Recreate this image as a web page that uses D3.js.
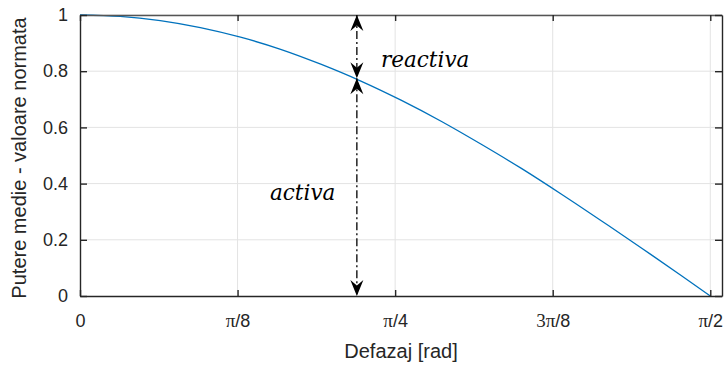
<!DOCTYPE html>
<html>
<head>
<meta charset="utf-8">
<script src="https://cdn.jsdelivr.net/npm/d3@7"></script>
<style>
  body { margin: 0; background: #fff; }
  svg { display: block; }
</style>
</head>
<body>
<div id="viz"></div>
<script>

// values
var angle = [0, 0.1, 0.2, 0.3, 0.4, 0.5, 0.6, 0.7, 0.8, 0.9, 1.0, 1.1, 1.2, 1.3, 1.4, 1.5, 1.5708];
var power = [1, 0.995, 0.980, 0.955, 0.921, 0.878, 0.825, 0.765, 0.697, 0.622, 0.540, 0.454, 0.362, 0.267, 0.170, 0.071, 0];

var xTicks = [0, Math.PI / 8, Math.PI / 4, 3 * Math.PI / 8, Math.PI / 2];
var xTickLabels = [["", "0"], ["\u03c0", "/8"], ["\u03c0", "/4"], ["3\u03c0", "/8"], ["\u03c0", "/2"]];
var yTicks = [0, 0.2, 0.4, 0.6, 0.8, 1];
var yTickLabels = ["0", "0.2", "0.4", "0.6", "0.8", "1"];

var markAngle = 0.69;     // where the two arrows stand
var markPower = 0.775;    // curve value there

var width = 727, height = 367;
var margin = {top: 15, right: 5, bottom: 71, left: 80};

var x = d3.scaleLinear().domain([0, 1.6]).range([margin.left, width - margin.right]);
var y = d3.scaleLinear().domain([0, 1]).range([height - margin.bottom, margin.top]);

var svg = d3.select('#viz')
	.append('svg')
		.attr('width', width)
		.attr('height', height)
		.style('font-family', 'Liberation Sans, Arial, sans-serif');

// arrow heads
var defs = svg.append('defs');
defs.append('marker')
	.attr('id', 'head')
	.attr('markerUnits', 'userSpaceOnUse')
	.attr('viewBox', '-18 -8 19 16')
	.attr('refX', 0).attr('refY', 0)
	.attr('markerWidth', 19).attr('markerHeight', 16)
	.attr('orient', 'auto-start-reverse')
	.append('path')
		.attr('d', 'M0,0 L-16,-6.5 L-10.5,0 L-16,6.5 Z')
		.attr('fill', '#000');

// grid
svg.append('g').selectAll('line.gx')
	.data(xTicks.slice(1))
	.enter().append('line')
		.attr('x1', function(d) { return x(d); })
		.attr('x2', function(d) { return x(d); })
		.attr('y1', y(0)).attr('y2', y(1))
		.attr('stroke', '#e3e3e3').attr('stroke-width', 1);
svg.append('g').selectAll('line.gy')
	.data(yTicks.slice(1))
	.enter().append('line')
		.attr('y1', function(d) { return y(d); })
		.attr('y2', function(d) { return y(d); })
		.attr('x1', x(0)).attr('x2', x(1.6))
		.attr('stroke', '#e3e3e3').attr('stroke-width', 1);

// curve
var line = d3.line()
	.x(function(d, i) { return x(angle[i]); })
	.y(function(d) { return y(d); })
	.curve(d3.curveNatural);

svg.append('path')
	.datum(power)
	.attr('d', line)
	.attr('fill', 'none')
	.attr('stroke', '#0072BD')
	.attr('stroke-width', 1.3);

// axes box
var axisColor = '#262626';
var xAxis = svg.append('g').attr('transform', 'translate(0,' + y(0) + ')')
	.call(d3.axisBottom(x).tickValues(xTicks).tickFormat('').tickSizeInner(-6).tickSizeOuter(0));
var xTop = svg.append('g').attr('transform', 'translate(0,' + y(1) + ')')
	.call(d3.axisTop(x).tickValues(xTicks).tickFormat('').tickSizeInner(-6).tickSizeOuter(0));
var yAxis = svg.append('g').attr('transform', 'translate(' + x(0) + ',0)')
	.call(d3.axisLeft(y).tickValues(yTicks).tickFormat(function(d, i) { return yTickLabels[i]; }).tickSizeInner(-7).tickSizeOuter(0).tickPadding(12));
var yRight = svg.append('g').attr('transform', 'translate(' + x(1.6) + ',0)')
	.call(d3.axisRight(y).tickValues(yTicks).tickFormat('').tickSizeInner(-7).tickSizeOuter(0));

[xAxis, xTop, yAxis, yRight].forEach(function(g) {
	g.select('.domain').attr('stroke', axisColor).attr('stroke-width', 1.4);
	g.selectAll('.tick line').attr('stroke', axisColor).attr('stroke-width', 1.4);
	g.selectAll('.tick text')
		.attr('fill', '#262626')
		.style('font-size', '18px')
		.style('font-family', 'Liberation Sans, Arial, sans-serif');
});
xTop.select('.domain').attr('stroke', '#555');

// x tick labels, pi in a serif face
var xl = xAxis.selectAll('.tick text').data(xTickLabels);
xl.text(null)
	.attr('y', 31).attr('dy', null);
xl.append('tspan')
	.style('font-family', 'Liberation Serif, serif')
	.style('font-size', '19px')
	.text(function(d) { return d[0]; });
xl.append('tspan')
	.text(function(d) { return d[1]; });

// axis titles
svg.append('text')
	.attr('x', x(0.8)).attr('y', 358)
	.attr('text-anchor', 'middle')
	.style('font-size', '20px')
	.attr('fill', '#262626')
	.text('Defazaj [rad]');
svg.append('text')
	.attr('transform', 'translate(26,158) rotate(-90)')
	.attr('text-anchor', 'middle')
	.style('font-size', '20px')
	.attr('fill', '#262626')
	.text('Putere medie - valoare normata');

// arrows
var arrows = [[1, markPower], [markPower, 0]];
svg.append('g').selectAll('line')
	.data(arrows)
	.enter().append('line')
		.attr('x1', x(markAngle)).attr('x2', x(markAngle))
		.attr('y1', function(d) { return y(d[0]); })
		.attr('y2', function(d) { return y(d[1]); })
		.attr('stroke', '#000')
		.attr('stroke-width', 1.3)
		.attr('stroke-dasharray', '8,3,2,3')
		.attr('marker-start', 'url(#head)')
		.attr('marker-end', 'url(#head)');

// labels
svg.append('text')
	.attr('x', 381).attr('y', 67)
	.style('font-family', 'DejaVu Serif, serif')
	.style('font-style', 'italic')
	.style('font-size', '21.5px')
	.text('reactiva');
svg.append('text')
	.attr('x', 270).attr('y', 200)
	.style('font-family', 'DejaVu Serif, serif')
	.style('font-style', 'italic')
	.style('font-size', '21.5px')
	.text('activa');

</script>
</body>
</html>
